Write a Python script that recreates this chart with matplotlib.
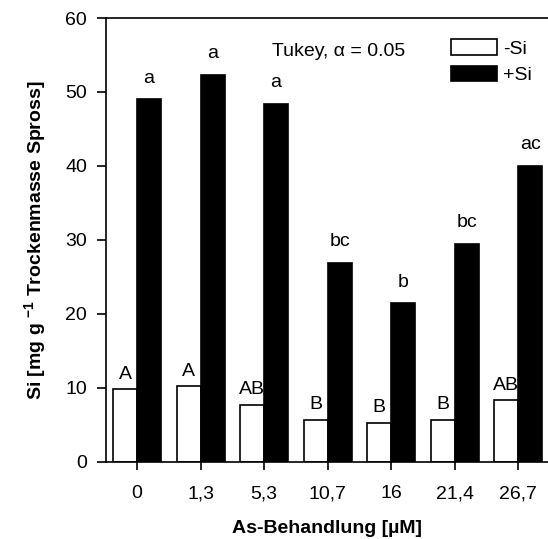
import matplotlib
matplotlib.use('Agg')
import matplotlib.pyplot as plt
import numpy as np

plt.rcParams['font.family'] = ['Liberation Sans', 'DejaVu Sans']
plt.rcParams['mathtext.fontset'] = 'custom'
plt.rcParams['mathtext.rm'] = 'Liberation Sans'
plt.rcParams['mathtext.bf'] = 'Liberation Sans:bold'

treatments = ['0', '1,3', '5,3', '10,7', '16', '21,4', '26,7']
si_minus = [9.8, 10.2, 7.7, 5.7, 5.3, 5.7, 8.3]
si_plus = [49.0, 52.3, 48.4, 26.9, 21.4, 29.5, 40.0]
letters_minus = ['A', 'A', 'AB', 'B', 'B', 'B', 'AB']
letters_plus = ['a', 'a', 'a', 'bc', 'b', 'bc', 'ac']

fs = 14

fig = plt.figure(figsize=(5.48, 5.39), dpi=100)
ax = fig.add_axes([0.1934, 0.1434, 0.8066, 0.8232])

x = np.arange(len(treatments))
w = 0.378
ax.bar(x - w / 2, si_minus, w, color='white', edgecolor='black', linewidth=1.2, label='-Si')
ax.bar(x + w / 2, si_plus, w, color='black', edgecolor='black', linewidth=1.2, label='+Si')

# Tukey letters above the bars
for xi, v, t in zip(x, si_minus, letters_minus):
    ax.text(xi - w / 2, v + 0.9, t, ha='center', va='bottom', fontsize=fs)
for xi, v, t in zip(x, si_plus, letters_plus):
    ax.text(xi + w / 2, v + 1.7, t, ha='center', va='bottom', fontsize=fs)

ax.text(0.375, 0.925, 'Tukey, α = 0.05', transform=ax.transAxes, fontsize=fs,
        ha='left', va='center')

ax.set_xlim(-0.49, 6.47)
ax.set_ylim(0, 60)
ax.set_yticks(range(0, 61, 10))
ax.set_xticks(x)
ax.set_xticklabels(treatments)
ax.tick_params(axis='x', length=6, width=1.2, pad=11, labelsize=fs)
ax.tick_params(axis='y', length=6.5, width=1.2, pad=7, labelsize=fs)
ax.spines['right'].set_visible(False)
for s in ['left', 'top', 'bottom']:
    ax.spines[s].set_linewidth(1.2)

ax.set_xlabel('As-Behandlung [µM]', fontsize=fs, fontweight='bold', labelpad=13)
ax.set_ylabel(r'Si [mg g $^{\mathbf{-1}}$ Trockenmasse Spross]', fontsize=fs,
              fontweight='bold', labelpad=12)

ax.legend(loc='upper left', bbox_to_anchor=(0.762, 0.97), frameon=False, fontsize=fs,
          handlelength=2.4, handleheight=0.88, handletextpad=0.3, labelspacing=0.4,
          borderaxespad=0)

fig.savefig('out.png', dpi=100)
